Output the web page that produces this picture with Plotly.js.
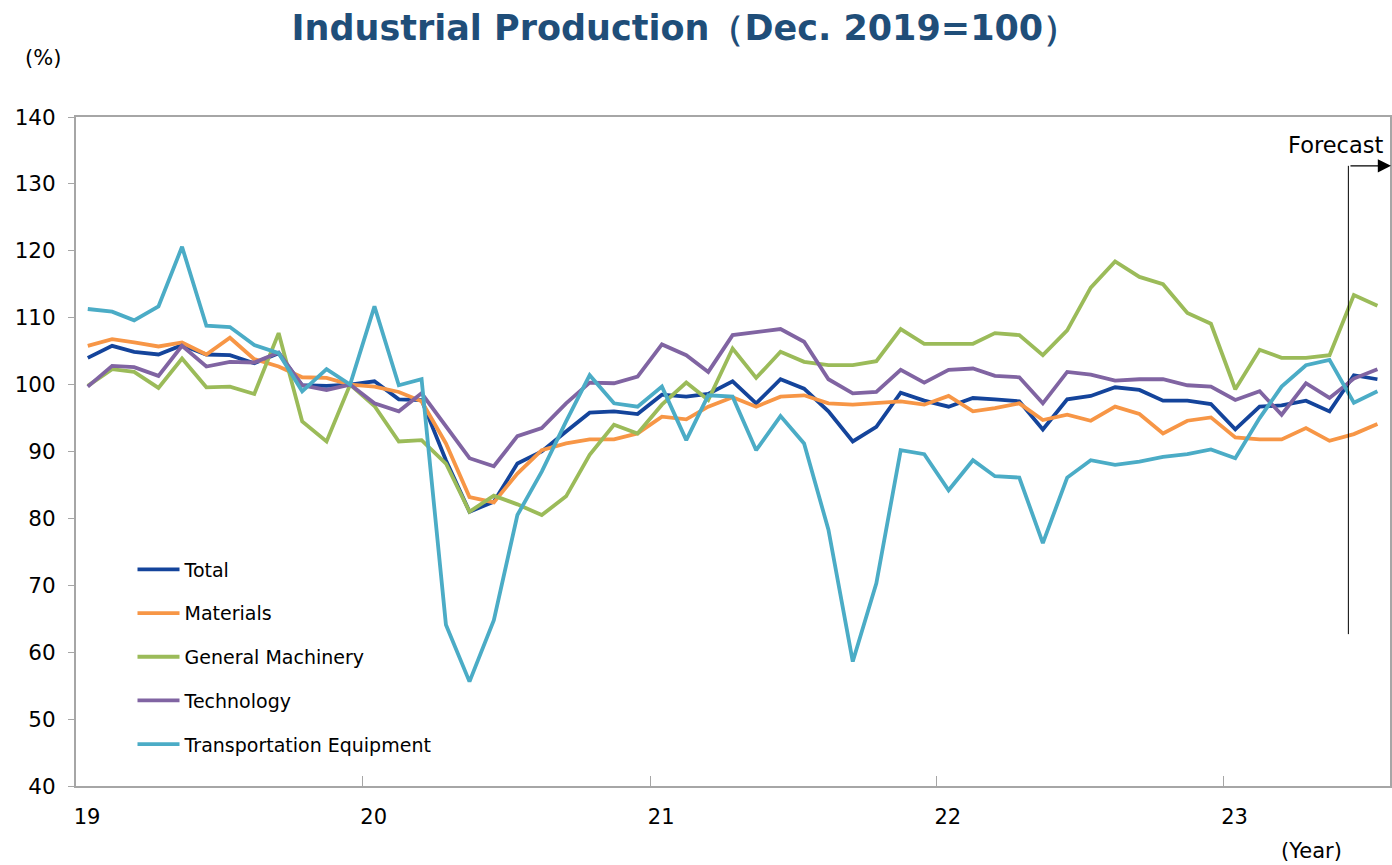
<!DOCTYPE html>
<html>
<head>
<meta charset="utf-8">
<script src="https://cdn.plot.ly/plotly-3.0.1.min.js"></script>
<style>html,body{margin:0;padding:0;background:#fff;}#chart{width:1392px;height:865px;}</style>
</head>
<body>
<div id="chart"></div>
<script>
// Monthly data, Jan 2019 – Jul 2023 (Dec 2019 = 100)
const startYear = 2019;
const nMonths = 55;
const yearTickLabels = ["19", "20", "21", "22", "23"];
const yearTickDates = ["2019-01-01", "2020-01-01", "2021-01-01", "2022-01-01", "2023-01-01"];
const seriesNames = ["Total", "Materials", "General Machinery", "Technology", "Transportation Equipment"];

const total = [
  104.0, 105.8, 104.9, 104.5, 105.9, 104.5, 104.4, 103.2, 104.7, 99.9, 99.8, 100.0,
  100.5, 97.8, 97.7, 88.7, 81.0, 82.5, 88.2, 90.0, 93.0, 95.8, 96.0, 95.6,
  98.5, 98.2, 98.6, 100.5, 97.2, 100.8, 99.4, 96.0, 91.5, 93.7, 98.8, 97.6,
  96.7, 98.0, 97.8, 97.5, 93.3, 97.8, 98.3, 99.6, 99.2, 97.6, 97.6, 97.1,
  93.3, 96.7, 96.9, 97.6, 96.0, 101.4, 100.8
];
const materials = [
  105.8, 106.8, 106.3, 105.7, 106.3, 104.5, 107.0, 103.8, 102.7, 101.1, 101.0, 100.0,
  99.7, 98.9, 97.5, 91.2, 83.2, 82.4, 86.7, 90.2, 91.2, 91.8, 91.8, 92.7,
  95.2, 94.8, 96.7, 98.1, 96.7, 98.2, 98.4, 97.2, 97.0, 97.2, 97.5, 97.0,
  98.3, 96.0, 96.5, 97.2, 94.7, 95.5, 94.6, 96.7, 95.6, 92.7, 94.6, 95.1,
  92.1, 91.8, 91.8, 93.5, 91.6, 92.6, 94.1
];
const machinery = [
  99.8, 102.3, 101.9, 99.5, 103.9, 99.6, 99.7, 98.6, 107.7, 94.5, 91.5, 100.0,
  96.8, 91.5, 91.7, 88.2, 81.0, 83.4, 82.1, 80.5, 83.3, 89.5, 94.0, 92.7,
  97.0, 100.3, 97.7, 105.4, 101.0, 104.9, 103.4, 102.9, 102.9, 103.5, 108.3, 106.1,
  106.1, 106.1, 107.7, 107.4, 104.4, 108.1, 114.5, 118.4, 116.1, 115.0, 110.7, 109.1,
  99.3, 105.2, 104.0, 104.0, 104.4, 113.4, 111.8
];
const technology = [
  99.7, 102.8, 102.6, 101.3, 105.8, 102.7, 103.4, 103.3, 104.8, 99.9, 99.2, 100.0,
  97.2, 96.0, 98.7, 93.7, 89.0, 87.8, 92.3, 93.5, 97.2, 100.3, 100.2, 101.2,
  106.0, 104.4, 101.9, 107.4, 107.9, 108.3, 106.4, 100.8, 98.7, 98.9, 102.2, 100.3,
  102.2, 102.4, 101.3, 101.1, 97.2, 101.9, 101.5, 100.6, 100.8, 100.8, 99.9, 99.7,
  97.7, 99.0, 95.5, 100.2, 98.0, 100.9, 102.3
];
const transport = [
  111.3, 110.9, 109.6, 111.7, 120.6, 108.8, 108.6, 105.9, 104.7, 99.0, 102.3, 100.0,
  111.7, 99.9, 100.8, 64.1, 55.6, 64.8, 80.5, 87.0, 94.5, 101.4, 97.2, 96.7,
  99.7, 91.7, 98.4, 98.2, 90.2, 95.3, 91.2, 78.3, 58.6, 70.3, 90.2, 89.6,
  84.2, 88.7, 86.3, 86.1, 76.3, 86.1, 88.7, 88.0, 88.5, 89.2, 89.6, 90.3,
  89.0, 95.0, 99.7, 102.9, 103.7, 97.3, 99.0
];
const colors = ["#14449b", "#f79646", "#9bbb59", "#8064a2", "#4bacc6"];
const forecastStart = "2023-06-09";

// month positions (mid-month)
const months = [];
for (let i = 0; i < nMonths; i++) {
  const y = startYear + Math.floor(i / 12);
  const m = (i % 12) + 1;
  months.push(y + "-" + String(m).padStart(2, "0") + "-16");
}

const allSeries = [total, materials, machinery, technology, transport];
const traces = allSeries.map((vals, k) => ({
  type: "scatter",
  mode: "lines",
  x: months,
  y: vals,
  name: seriesNames[k],
  legendgroup: "g" + k,
  line: {color: colors[k], width: 3.8},
  hoverinfo: "x+y+name"
}));

const FONT = "DejaVu Sans, Verdana, sans-serif";
const axisColor = "#a6a6a6";

const layout = {
  width: 1392, height: 865,
  margin: {l: 76, r: 2, t: 117, b: 79},
  paper_bgcolor: "#ffffff", plot_bgcolor: "#ffffff",
  font: {family: FONT, size: 19, color: "#000"},
  title: {
    text: "<b>Industrial Production（Dec. 2019=100）</b>",
    font: {family: FONT, size: 35, color: "#1f4e79"},
    xref: "container", yref: "container",
    x: 0.492, xanchor: "center", y: 0.968, yanchor: "middle"
  },
  showlegend: true,
  legend: {
    x: 0.043, xanchor: "left", y: 0.352, yanchor: "top",
    bgcolor: "rgba(0,0,0,0)",
    font: {family: FONT, size: 19, color: "#000"},
    traceorder: "grouped", tracegroupgap: 16,
    itemwidth: 42
  },
  xaxis: {
    type: "date",
    range: ["2019-01-01", "2023-08-01"],
    tickmode: "array",
    tickvals: yearTickDates,
    ticktext: yearTickLabels,
    ticks: "inside", ticklen: 10, tickwidth: 1, tickcolor: axisColor,
    ticklabelshift: 11, ticklabelstandoff: 11,
    tickfont: {family: FONT, size: 21, color: "#000"},
    showgrid: false, zeroline: false,
    showline: true, linecolor: axisColor, linewidth: 2, mirror: true
  },
  yaxis: {
    range: [40, 140],
    tickmode: "linear", tick0: 40, dtick: 10,
    ticks: "outside", ticklen: 6, tickwidth: 1, tickcolor: axisColor,
    ticklabelstandoff: 8,
    tickfont: {family: FONT, size: 21.5, color: "#000"},
    showgrid: false, zeroline: false,
    showline: true, linecolor: axisColor, linewidth: 2, mirror: true
  },
  shapes: [{
    type: "line", xref: "x", yref: "y",
    x0: forecastStart, x1: forecastStart, y0: 62.7, y1: 132.7,
    line: {color: "#000", width: 1}
  }],
  annotations: [
    {text: "(%)", xref: "paper", yref: "paper", x: -0.025, y: 1.088,
     xanchor: "center", yanchor: "middle", showarrow: false,
     font: {family: FONT, size: 21, color: "#000"}},
    {text: "(Year)", xref: "paper", yref: "paper", x: 0.94, y: -0.097,
     xanchor: "center", yanchor: "middle", showarrow: false,
     font: {family: FONT, size: 21, color: "#000"}},
    {text: "Forecast", xref: "paper", yref: "y", x: 0.9965, y: 135.8,
     xanchor: "right", yanchor: "middle", showarrow: false,
     font: {family: FONT, size: 22.5, color: "#000"}},
    {text: "", xref: "paper", yref: "y", x: 1.0015, y: 132.7,
     axref: "pixel", ayref: "pixel", ax: -43, ay: 0,
     showarrow: true, arrowhead: 2, arrowsize: 2.2, arrowwidth: 1.2, arrowcolor: "#000",
     standoff: 0, startstandoff: 0}
  ]
};

Plotly.newPlot("chart", traces, layout, {displayModeBar: false});
</script>
</body>
</html>
